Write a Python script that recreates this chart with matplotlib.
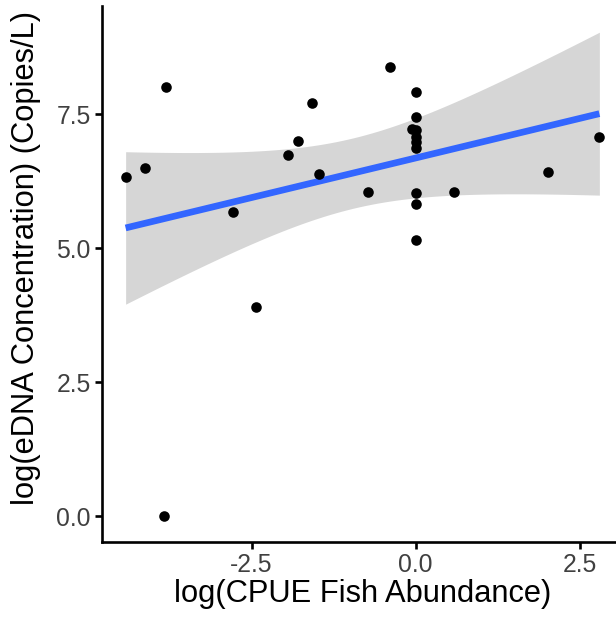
import numpy as np
import matplotlib
matplotlib.use("Agg")
import matplotlib.pyplot as plt

# values
cpue = [-4.42, -4.12, -3.80, -3.84, -2.79, -2.44, -1.94, -1.80, -1.58, -1.48,
        -0.39, -0.73, 0.0, 0.0, -0.05, 0.0, 0.0, 0.0, 0.0, 0.0, 0.0, 0.0,
        0.58, 2.01, 2.80]
edna = [6.33, 6.50, 8.00, 0.0, 5.68, 3.90, 6.74, 7.01, 7.71, 6.39,
        8.38, 6.05, 7.92, 7.45, 7.23, 7.21, 7.08, 6.99, 6.88, 6.03, 5.83, 5.16,
        6.05, 6.43, 7.08]
xticks = [-2.5, 0.0, 2.5]
yticks = [0.0, 2.5, 5.0, 7.5]

plt.rcParams['font.family'] = ['Liberation Sans', 'DejaVu Sans']

x = np.array(cpue)
y = np.array(edna)
n = len(x)

# linear fit with 95% confidence band, like geom_smooth(method="lm")
slope, icept = np.polyfit(x, y, 1)
xs = np.linspace(x.min(), x.max(), 80)
fit = icept + slope * xs
resid = y - (icept + slope * x)
s = np.sqrt((resid ** 2).sum() / (n - 2))
sxx = ((x - x.mean()) ** 2).sum()
se = s * np.sqrt(1.0 / n + (xs - x.mean()) ** 2 / sxx)
tq = 2.069  # t(0.975, df=23)
lo = fit - tq * se
hi = fit + tq * se

fig = plt.figure(figsize=(6.16, 6.21), dpi=100)
# panel runs a little past the right edge of the picture, as in the reference
ax = fig.add_axes([102 / 616, 79.5 / 621, (623 - 102) / 616, (541.5 - 6) / 621])

ax.fill_between(xs, lo, hi, color="#999999", alpha=0.4, lw=0, zorder=1)
ax.plot(xs, fit, color="#3366FF", lw=4.8, zorder=2, solid_capstyle="butt")
ax.scatter(x, y, s=58, color="black", lw=0, zorder=3)

ax.set_xlim(-4.78, 3.16)
ax.set_ylim(-0.47, 9.52)
ax.set_xticks(xticks)
ax.set_yticks(yticks)
ax.set_xticklabels(["%.1f" % v for v in xticks])
ax.set_yticklabels(["%.1f" % v for v in yticks])

for side in ["top", "right"]:
    ax.spines[side].set_visible(False)
for side in ["left", "bottom"]:
    ax.spines[side].set_linewidth(1.9)
ax.tick_params(width=1.9, length=5, labelsize=17.8, labelcolor="#404040", pad=3)

ax.set_xlabel("log(CPUE Fish Abundance)", fontsize=22.2, labelpad=2)
ax.set_ylabel("log(eDNA Concentration) (Copies/L)", fontsize=22.2)
ax.yaxis.set_label_coords(-0.118, 0.53)

fig.savefig("out.png", dpi=100)
